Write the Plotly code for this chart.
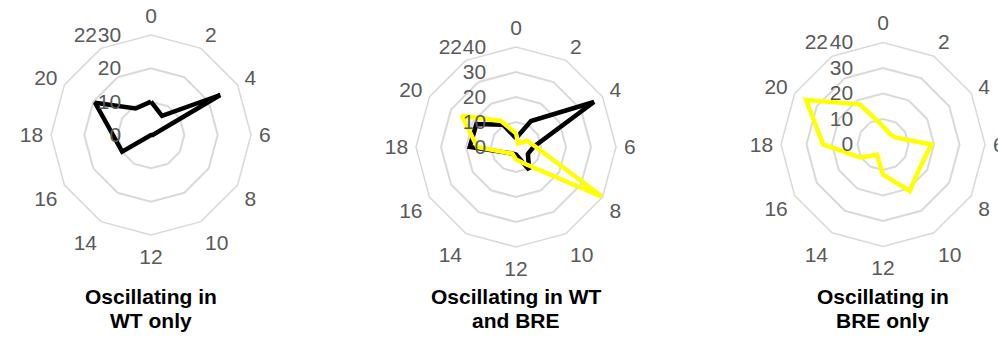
import plotly.graph_objects as go

W, H = 998, 338
FONT = "Liberation Sans, Arial, sans-serif"

hours = ["0", "2", "4", "6", "8", "10", "12", "14", "16", "18", "20", "22"]
wt_only = [10, 6.6, 24, 0.5, 0, 0, 0, 0, 10, 11.4, 19.4, 9.2]
both_wt = [3.5, 12, 36, 7, 5.5, 10.5, 3, 3, 4.5, 18.5, 18.3, 10.3]
both_bre = [5.5, 1.7, 5, 8, 40, 8, 5, 3, 4.5, 15.5, 25, 12]
bre_only = [7.2, 5, 5.5, 19, 17, 21, 11.8, 4.7, 10.2, 23.5, 34.8, 18.2]
radial_max = [30, 40, 40]
titles = [["Oscillating in", "WT only"],
          ["Oscillating in WT", "and BRE"],
          ["Oscillating in", "BRE only"]]

BLACK = "#000000"
YELLOW = "#FFFF00"
GRID = "#d9d9d9"
TICK = "#595959"

# panel geometry (pixels): center x, center y, radius
panels = [(151, 135, 100), (516, 147, 100), (883, 144.5, 102)]


def closed(v):
    return list(v) + [v[0]]


fig = go.Figure()
series = [
    [(wt_only, BLACK)],
    [(both_wt, BLACK), (both_bre, YELLOW)],
    [(bre_only, YELLOW)],
]
for i, group in enumerate(series):
    sub = "polar" if i == 0 else f"polar{i+1}"
    for vals, col in group:
        fig.add_trace(go.Scatterpolar(
            r=closed(vals), theta=closed(hours), mode="lines",
            line=dict(color=col, width=4.5), subplot=sub,
            showlegend=False, hoverinfo="skip"))

layout = dict(
    width=W, height=H, margin=dict(l=0, r=0, t=0, b=0),
    paper_bgcolor="white", plot_bgcolor="white", showlegend=False,
    font=dict(family=FONT),
)

annotations = []
for i, (cx, cy, rad) in enumerate(panels):
    key = "polar" if i == 0 else f"polar{i+1}"
    layout[key] = dict(
        domain=dict(x=[(cx - rad) / W, (cx + rad) / W],
                    y=[1 - (cy + rad) / H, 1 - (cy - rad) / H]),
        gridshape="linear",
        bgcolor="white",
        angularaxis=dict(
            type="category", categoryarray=hours, direction="clockwise",
            rotation=90, showgrid=False, showline=True, linecolor=GRID,
            linewidth=1.5, ticks="outside", ticklen=3,
            tickcolor="rgba(0,0,0,0)",
            tickfont=dict(size=21, color=TICK, family=FONT)),
        radialaxis=dict(
            range=[0, radial_max[i]], tick0=0, dtick=10, angle=90,
            side="counterclockwise", showline=False, gridcolor=GRID,
            gridwidth=1.5, ticks="outside", ticklen=22,
            tickcolor="rgba(0,0,0,0)", tickangle=90,
            tickfont=dict(size=21, color=TICK, family=FONT)),
    )
    for j, (txt, ty) in enumerate(zip(titles[i], [296, 320.5])):
        annotations.append(dict(
            x=cx / W, y=1 - ty / H, xref="paper", yref="paper",
            text=f"<b>{txt}</b>", showarrow=False, xanchor="center",
            yanchor="middle", font=dict(size=21, color="black", family=FONT)))

layout["annotations"] = annotations
fig.update_layout(**layout)
fig.write_html("out.html", config={"displayModeBar": False},
               post_script="document.body.style.margin='0px';document.body.style.overflow='hidden';")
